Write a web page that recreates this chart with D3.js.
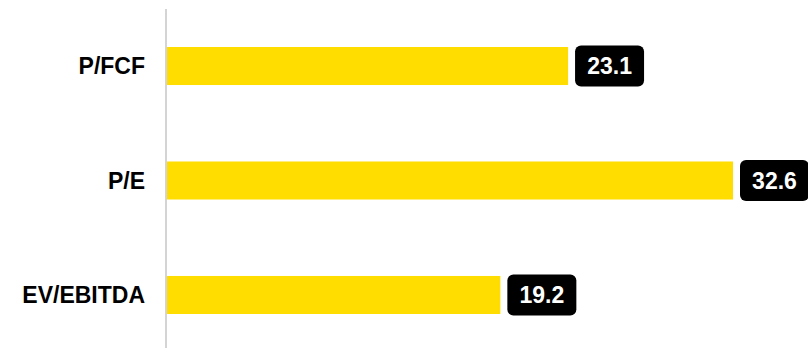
<!doctype html>
<html lang="en">
<head>
<meta charset="utf-8">
<title>multiples</title>
<style>
    body { margin: 0; background: #fff; }
    svg { display: block; font-family: "Liberation Sans", Arial, sans-serif; }
</style>
</head>
<body>
<svg id="chart" width="808" height="348"></svg>
<script src="https://d3js.org/d3.v7.min.js"></script>
<script>
    // data
    let categories = ["P/FCF", "P/E", "EV/EBITDA"];
    let values = [23.1, 32.6, 19.2];

    let svg = d3.select("#chart");
    let x0 = 167;

    let x = d3.scaleLinear()
        .domain([0, 32.6])
        .range([x0, 733]);

    let y = d3.scaleBand()
        .domain(categories)
        .range([9, 352])
        .paddingInner(0.668)
        .paddingOuter(0.332);

    // vertical axis line
    svg.append("line")
        .attr("x1", 166).attr("x2", 166)
        .attr("y1", 9).attr("y2", 348)
        .attr("stroke", "#d4d4d4")
        .attr("stroke-width", 2);

    let rows = svg.selectAll("g.row")
        .data(categories)
        .enter().append("g")
        .attr("class", "row");

    rows.append("rect")
        .attr("x", x0)
        .attr("y", d => y(d))
        .attr("height", y.bandwidth())
        .attr("width", (d, i) => x(values[i]) - x0)
        .attr("fill", "#ffdd00");

    rows.append("text")
        .attr("x", 145)
        .attr("y", d => y(d) + y.bandwidth() / 2)
        .attr("dy", "0.35em")
        .attr("text-anchor", "end")
        .attr("font-size", 23)
        .attr("font-weight", "bold")
        .attr("fill", "#000")
        .text(d => d);

    // value badges
    let boxW = 69, boxH = 41;
    rows.append("rect")
        .attr("x", (d, i) => x(values[i]) + 7)
        .attr("y", d => y(d) + y.bandwidth() / 2 - boxH / 2)
        .attr("width", boxW)
        .attr("height", boxH)
        .attr("rx", 6)
        .attr("fill", "#000");

    rows.append("text")
        .attr("x", (d, i) => x(values[i]) + 7 + boxW / 2)
        .attr("y", d => y(d) + y.bandwidth() / 2)
        .attr("dy", "0.36em")
        .attr("text-anchor", "middle")
        .attr("font-size", 23)
        .attr("font-weight", "bold")
        .attr("fill", "#fff")
        .text((d, i) => values[i].toFixed(1));
</script>
</body>
</html>
